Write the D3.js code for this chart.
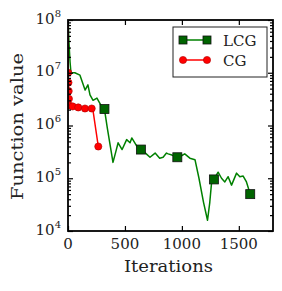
<!DOCTYPE html>
<html>
<head>
<meta charset="utf-8">
<script src="https://cdn.jsdelivr.net/npm/d3@7"></script>
<style>
  body { margin: 0; background: #fff; }
  text { font-family: "DejaVu Serif", "Liberation Serif", serif; fill: #222; }
</style>
</head>
<body>
<script>
// LCG trace (iterations, function value)
const lcgIter = [0, 8, 18, 26, 60, 105, 150, 175, 193, 220, 254, 290, 320,
  345, 395, 420, 440, 475, 515, 545, 560, 600, 640, 680, 720, 765, 805, 835, 865, 880,
  912, 960, 1000, 1025, 1070, 1115, 1150, 1190, 1225, 1245, 1260, 1281, 1318,
  1348, 1377, 1406, 1436, 1480, 1509, 1538, 1567, 1600];
const lcgValue = [1.2e8, 4e7, 1.6e7, 1.0e7, 1.0e7, 9.0e6, 4.7e6, 5.9e6, 3.8e6,
  3.0e6, 3.3e6, 2.4e6, 2.05e6, 9e5, 2.0e5, 3.2e5, 4.7e5, 3.5e5, 5.4e5, 4.7e5, 5.8e5,
  4.2e5, 3.5e5, 3.0e5, 2.5e5, 3.0e5, 2.4e5, 2.5e5, 3.0e5, 2.9e5, 2.75e5, 2.5e5,
  2.7e5, 2.9e5, 2.4e5, 2.25e5, 1.0e5, 3.5e4, 1.6e4, 3.5e4, 8e4, 9.5e4, 1.3e5,
  1.0e5, 8.5e4, 1.07e5, 7.4e4, 1.25e5, 1.07e5, 1.1e5, 8.5e4, 5.0e4];
const lcgMarkIter = [0, 320, 640, 960, 1281, 1600];
const lcgMarkValue = [1.2e8, 2.05e6, 3.5e5, 2.5e5, 9.5e4, 5.0e4];

// CG trace
const cgIter = [0, 2, 4, 6, 8, 10, 41, 90, 149, 208, 217, 266];
const cgValue = [1.2e8, 1.0e7, 6.5e6, 4.5e6, 3.2e6, 2.4e6, 2.3e6, 2.2e6, 2.1e6,
  2.1e6, 2.1e6, 4.0e5];
const cgMarkIter = [0, 2, 4, 6, 8, 10, 41, 90, 149, 208, 266];
const cgMarkValue = [1.2e8, 1.0e7, 6.5e6, 4.5e6, 3.2e6, 2.4e6, 2.3e6, 2.2e6,
  2.1e6, 2.1e6, 4.0e5];

const xTicks = [0, 500, 1000, 1500];
const yExp = [4, 5, 6, 7, 8];

const W = 282, H = 291;
const margin = {top: 20, right: 9, bottom: 60, left: 68};

const svg = d3.select("body").append("svg")
  .attr("width", W).attr("height", H);

const x = d3.scaleLinear().domain([0, 1800]).range([margin.left, W - margin.right]);
const y = d3.scaleLog().domain([1e4, 1e8]).range([H - margin.bottom, margin.top]);

svg.append("clipPath").attr("id", "clip")
  .append("rect")
  .attr("x", margin.left).attr("y", margin.top)
  .attr("width", W - margin.right - margin.left)
  .attr("height", H - margin.bottom - margin.top);

const plot = svg.append("g").attr("clip-path", "url(#clip)");

const line = d3.line().x(d => x(d[0])).y(d => y(d[1]));

plot.append("path")
  .attr("d", line(d3.zip(lcgIter, lcgValue)))
  .attr("fill", "none").attr("stroke", "#008000").attr("stroke-width", 1.5)
  .attr("stroke-linejoin", "round");

plot.append("path")
  .attr("d", line(d3.zip(cgIter, cgValue)))
  .attr("fill", "none").attr("stroke", "#ff0000").attr("stroke-width", 1.5)
  .attr("stroke-linejoin", "round");

plot.selectAll("circle.cg")
  .data(d3.zip(cgMarkIter, cgMarkValue))
  .join("circle").attr("class", "cg")
  .attr("cx", d => x(d[0])).attr("cy", d => y(d[1]))
  .attr("r", 3.6)
  .attr("fill", "#ff0000").attr("stroke", "#b00000").attr("stroke-width", 0.6);

plot.selectAll("rect.lcg")
  .data(d3.zip(lcgMarkIter, lcgMarkValue))
  .join("rect").attr("class", "lcg")
  .attr("x", d => x(d[0]) - 4.5).attr("y", d => y(d[1]) - 4.5)
  .attr("width", 9).attr("height", 9)
  .attr("fill", "#006400").attr("stroke", "#111").attr("stroke-width", 0.8);

// axes: ticks pointing inward on all sides
const minor = [];
yExp.slice(0, -1).forEach(e => { for (let k = 2; k < 10; k++) minor.push(k * Math.pow(10, e)); });
const major = yExp.map(e => Math.pow(10, e));

const axes = svg.append("g");

axes.append("g")
  .attr("transform", "translate(0," + (H - margin.bottom) + ")")
  .call(d3.axisBottom(x).tickValues(xTicks).tickSize(-5).tickFormat(""));
axes.append("g")
  .attr("transform", "translate(0," + margin.top + ")")
  .call(d3.axisTop(x).tickValues(xTicks).tickSize(-5).tickFormat(""));
axes.append("g")
  .attr("transform", "translate(" + margin.left + ",0)")
  .call(d3.axisLeft(y).tickValues(major).tickSize(-5).tickFormat(""));
axes.append("g")
  .attr("transform", "translate(" + margin.left + ",0)")
  .call(d3.axisLeft(y).tickValues(minor).tickSize(-3).tickFormat(""));
axes.append("g")
  .attr("transform", "translate(" + (W - margin.right) + ",0)")
  .call(d3.axisRight(y).tickValues(major).tickSize(-5).tickFormat(""));
axes.append("g")
  .attr("transform", "translate(" + (W - margin.right) + ",0)")
  .call(d3.axisRight(y).tickValues(minor).tickSize(-3).tickFormat(""));

axes.selectAll(".domain").remove();
axes.selectAll(".tick line").attr("stroke", "#000").attr("stroke-width", 1.2);

svg.append("rect")
  .attr("x", margin.left).attr("y", margin.top)
  .attr("width", W - margin.right - margin.left)
  .attr("height", H - margin.bottom - margin.top)
  .attr("fill", "none").attr("stroke", "#000").attr("stroke-width", 1.8);

// tick labels
svg.selectAll("text.xt")
  .data(xTicks).join("text").attr("class", "xt")
  .attr("x", d => x(d)).attr("y", H - margin.bottom + 17.5)
  .attr("text-anchor", "middle").attr("font-size", 15)
  .text(d => d);

const yl = svg.selectAll("text.yt")
  .data(yExp).join("text").attr("class", "yt")
  .attr("x", margin.left - 7).attr("y", d => y(Math.pow(10, d)) + 3.5)
  .attr("text-anchor", "end").attr("font-size", 15);
yl.append("tspan").text("10");
yl.append("tspan").attr("dy", -7).attr("font-size", 10).text(d => d);

svg.append("text")
  .attr("x", 168.5).attr("y", 272)
  .attr("text-anchor", "middle").attr("font-size", 16)
  .attr("textLength", 89).attr("lengthAdjust", "spacingAndGlyphs")
  .text("Iterations");

svg.append("text")
  .attr("transform", "translate(23," + ((margin.top + H - margin.bottom) / 2 + 1) + ") rotate(-90)")
  .attr("text-anchor", "middle").attr("font-size", 16)
  .attr("textLength", 147).attr("lengthAdjust", "spacingAndGlyphs")
  .text("Function value");

// legend
const lg = svg.append("g");
lg.append("rect")
  .attr("x", 173).attr("y", 27).attr("width", 94).attr("height", 50)
  .attr("fill", "#fff").attr("stroke", "#222").attr("stroke-width", 1);

lg.append("line").attr("x1", 183).attr("x2", 207).attr("y1", 40).attr("y2", 40)
  .attr("stroke", "#008000").attr("stroke-width", 1.5);
lg.selectAll("rect.lm").data([183, 207]).join("rect").attr("class", "lm")
  .attr("x", d => d - 4).attr("y", 36).attr("width", 8).attr("height", 8)
  .attr("fill", "#006400").attr("stroke", "#111").attr("stroke-width", 0.8);
lg.append("text").attr("x", 223).attr("y", 45.5).attr("font-size", 15).text("LCG");

lg.append("line").attr("x1", 183).attr("x2", 207).attr("y1", 60).attr("y2", 60)
  .attr("stroke", "#ff0000").attr("stroke-width", 1.5);
lg.selectAll("circle.lm").data([183, 207]).join("circle").attr("class", "lm")
  .attr("cx", d => d).attr("cy", 60).attr("r", 3.6)
  .attr("fill", "#ff0000").attr("stroke", "#b00000").attr("stroke-width", 0.6);
lg.append("text").attr("x", 223).attr("y", 65.5).attr("font-size", 15).text("CG");
</script>
</body>
</html>
